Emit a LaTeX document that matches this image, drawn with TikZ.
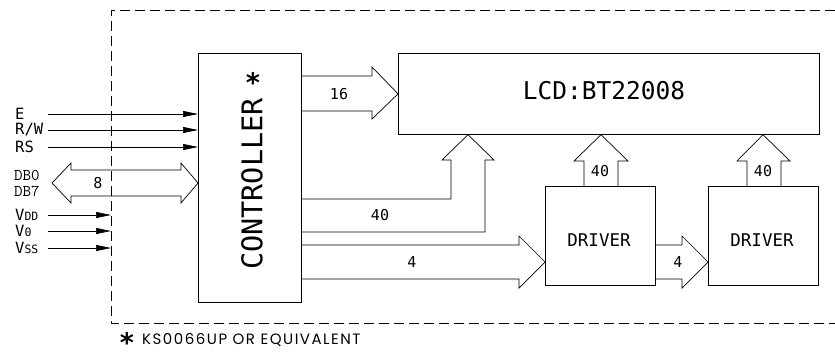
\documentclass[tikz,border=0pt]{standalone}
\usepackage{fontspec}
\usetikzlibrary{arrows.meta}
\newfontfamily\cad{DejaVu Sans Mono}
\newfontfamily\gothic[LetterSpace=10]{Poppins}
\newfontfamily\starfont{DejaVu Sans}
\tikzset{
  blk/.style={draw, line width=0.7pt, inner sep=0pt, anchor=north west},
  bus/.style={draw, line width=0.7pt, line join=miter},
  sig/.style={draw, line width=0.7pt, -{Triangle[length=15pt,width=6pt]}},
  frame/.style={draw, line width=0.7pt, dash pattern=on 10pt off 5pt},
  lbl/.style={font=\cad\fontsize{15}{15}\selectfont, inner sep=0pt},
  pin/.style={font=\cad\fontsize{15.5}{15.5}\selectfont, inner sep=0pt, anchor=west},
  dbl/.style={font=\ttfamily\fontsize{16.5}{16.5}\selectfont, inner sep=0pt, anchor=base west},
  star/.style={font=\starfont\bfseries\fontsize{27}{27}\selectfont, inner sep=0pt, anchor=base},
}
\begin{document}
\begin{tikzpicture}[x=1pt,y=-1pt]
\useasboundingbox (0,0) rectangle (835,357);
% frame
\path[frame] (835,10) -- (111,10) -- (111,323) -- (835,323);
% blocks
\node[blk, minimum width=103pt, minimum height=249pt] (ctrl) at (198,53) {};
\node[blk, minimum width=421pt, minimum height=81pt] (lcd) at (398,53) {};
\node[blk, minimum width=110pt, minimum height=99pt] (drv1) at (545,186) {};
\node[blk, minimum width=110pt, minimum height=99pt] (drv2) at (708,186) {};
% texts in blocks
\node[font=\cad\fontsize{28.5}{28.5}\selectfont, rotate=90, inner sep=0pt] (ctrltxt) at (252,184) {CONTROLLER};
\node[star] (star) at (253,92) {*};
\node[font=\cad\fontsize{24.5}{24.5}\selectfont, inner sep=0pt] (lcdtxt) at (604,91) {LCD:BT22008};
\node[font=\cad\fontsize{17.5}{17.5}\selectfont, inner sep=0pt] (d1txt) at (599,240) {DRIVER};
\node[font=\cad\fontsize{17.5}{17.5}\selectfont, inner sep=0pt] (d2txt) at (762,240) {DRIVER};
% bus 16 ctrl -> lcd
\path[bus] (ctrl.east |- 0,76) -- (372,76) -- (372,67) -- (lcd.west) -- (372,119) -- (372,111) -- (ctrl.east |- 0,111);
\node[lbl] (n16) at (339,94) {16};
% bus 40 ctrl -> lcd
\path[bus] (ctrl.east |- 0,199) -- (451,199) -- (451,160) -- (442,160) -- (468,0 |- lcd.south) -- (494,160) -- (485,160) -- (485,232) -- (ctrl.east |- 0,232);
\node[lbl] (n40) at (380,215) {40};
% bus 4 ctrl -> drv1
\path[bus] (ctrl.east |- 0,245) -- (519,245) -- (519,236) -- (drv1.west |- 0,262) -- (519,288) -- (519,279) -- (ctrl.east |- 0,279);
\node[lbl] (n4a) at (412,262) {4};
% bus 4 drv1 -> drv2
\path[bus] (drv1.east |- 0,245) -- (682,245) -- (682,236) -- (drv2.west |- 0,262) -- (682,288) -- (682,279) -- (drv1.east |- 0,279);
\node[lbl] (n4b) at (678,262) {4};
% bus 40 drv1 -> lcd
\path[bus] (584,0 |- drv1.north) -- (584,161) -- (574,161) -- (601,0 |- lcd.south) -- (628,161) -- (618,161) -- (618,0 |- drv1.north);
\node[lbl] (n40b) at (600,171) {40};
% bus 40 drv2 -> lcd
\path[bus] (747,0 |- drv2.north) -- (747,161) -- (737,161) -- (763,0 |- lcd.south) -- (790,161) -- (781,161) -- (781,0 |- drv2.north);
\node[lbl] (n40c) at (763,171) {40};
% left signals
\node[pin] (E) at (15,114) {E};
\node[pin] (RW) at (15,130) {R/W};
\node[pin] (RS) at (15,147) {RS};
\coordinate (e0) at (48,114);
\coordinate (rw0) at (48,130);
\coordinate (rs0) at (48,147);
\draw[sig] (e0) -- (ctrl.west |- e0);
\draw[sig] (rw0) -- (ctrl.west |- rw0);
\draw[sig] (rs0) -- (ctrl.west |- rs0);
% data bus
\node[dbl] (DB0) at (14,180) {DB0};
\node[dbl] (DB7) at (14,196) {DB7};
\path[bus] (52,183) -- (71,163) -- (71,170) -- (181,170) -- (181,163) -- (ctrl.west |- 0,183) -- (181,203) -- (181,196) -- (71,196) -- (71,203) -- cycle;
\node[lbl] (n8) at (98,183) {8};
% power pins
\node[pin] (VDD) at (15,215) {V{\fontsize{11.5}{11.5}\selectfont DD}};
\node[pin] (V0) at (15,231) {V{\fontsize{11.5}{11.5}\selectfont 0}};
\node[pin] (VSS) at (15,248) {V{\fontsize{11.5}{11.5}\selectfont SS}};
\coordinate (vdd0) at (48,215);
\coordinate (v00) at (48,231);
\coordinate (vss0) at (48,248);
\coordinate (vdd1) at (111,215);
\coordinate (v01) at (111,231);
\coordinate (vss1) at (111,248);
\draw[sig] (vdd0) -- (vdd1);
\draw[sig] (v00) -- (v01);
\draw[sig] (vss0) -- (vss1);
% footnote
\node[star] (fstar) at (127,352) {*};
\node[font=\gothic\fontsize{15}{15}\selectfont, inner sep=0pt, anchor=base west] (note) at (142,344) {KS0066UP OR EQUIVALENT};
\end{tikzpicture}
\end{document}
